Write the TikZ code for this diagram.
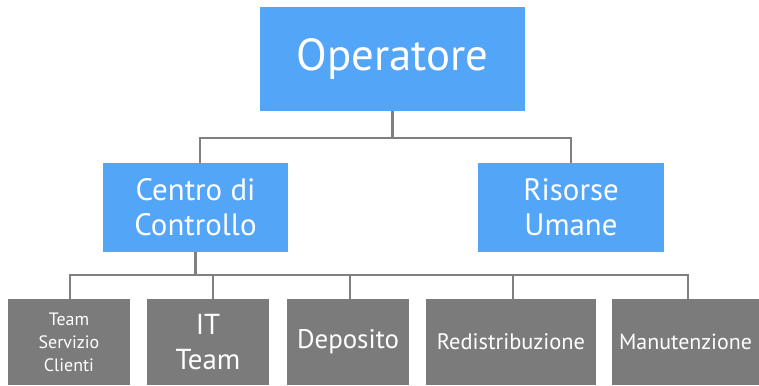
\documentclass[tikz,border=0pt]{standalone}
\usepackage{fontspec}
\setmainfont{PT Sans}
\definecolor{boxblue}{RGB}{82,165,247}
\definecolor{boxgray}{RGB}{123,123,123}
\definecolor{linegray}{RGB}{128,128,128}
\tikzset{
  bluebox/.style={rectangle, fill=boxblue, text=white, inner sep=0pt, align=center},
  graybox/.style={rectangle, fill=boxgray, text=white, inner sep=0pt, align=center},
  conn/.style={draw=linegray, line width=2.2bp, line join=miter}
}
\begin{document}
\begin{tikzpicture}[x=1bp,y=-1bp]
\useasboundingbox (0,0) rectangle (759,385);
% top
\node[bluebox, minimum width=265bp, minimum height=104bp, font=\fontsize{45}{50}\selectfont] (op) at (392.5,59) {Operatore};
% middle
\node[bluebox, minimum width=185bp, minimum height=89bp, font=\fontsize{31}{35}\selectfont] (cc) at (195.5,207.5) {Centro di\\Controllo};
\node[bluebox, minimum width=186bp, minimum height=89bp, font=\fontsize{31}{35}\selectfont] (hr) at (571,207.5) {Risorse\\Umane};
% bottom
\node[graybox, minimum width=122bp, minimum height=86bp, font=\fontsize{18}{23}\selectfont] (t1) at (69,342) {Team\\Servizio\\Clienti};
\node[graybox, minimum width=122bp, minimum height=86bp, font=\fontsize{29}{35}\selectfont] (t2) at (208,342) {IT\\Team};
\node[graybox, minimum width=122bp, minimum height=86bp, font=\fontsize{27}{32}\selectfont] (t3) at (348,342) {Deposito};
\node[graybox, minimum width=170bp, minimum height=86bp, font=\fontsize{22.5}{26}\selectfont] (t4) at (511,342) {Redistribuzione};
\node[graybox, minimum width=147bp, minimum height=86bp, font=\fontsize{22}{26}\selectfont] (t5) at (685.5,342) {Manutenzione};
% connectors
\coordinate (j1) at (392.5,138);
\coordinate (j2) at (195.5,275);
\draw[conn] (op.south) -- (j1);
\draw[conn] ([xshift=4.5bp]cc.north) |- (j1) -| (hr.north);
\draw[conn] (cc.south) -- (j2);
\draw[conn] ([xshift=1bp]t1.north) |- (j2) -| ([xshift=2.5bp]t5.north);
\draw[conn] ([xshift=5bp]t2.north) -- ([xshift=5bp]t2.north |- j2);
\draw[conn] ([xshift=2bp]t3.north) -- ([xshift=2bp]t3.north |- j2);
\draw[conn] ([xshift=2bp]t4.north) -- ([xshift=2bp]t4.north |- j2);
\end{tikzpicture}
\end{document}
